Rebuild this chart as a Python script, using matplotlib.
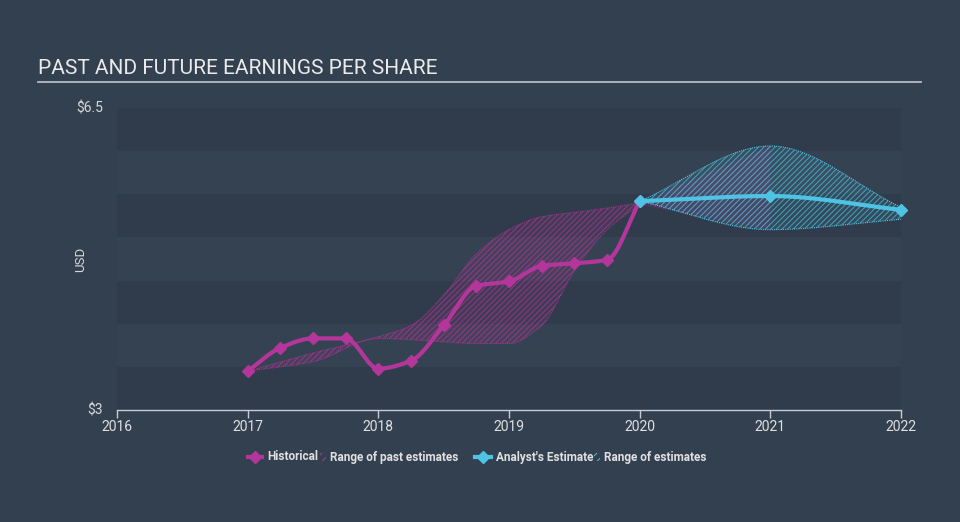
import matplotlib
matplotlib.use('Agg')
import matplotlib.pyplot as plt
import numpy as np
from matplotlib.lines import Line2D
import matplotlib.patches as mpatches

# ---- data ----
hist_x = [2017.0, 2017.25, 2017.5, 2017.75, 2018.0, 2018.25, 2018.5, 2018.75,
          2019.0, 2019.25, 2019.5, 2019.75, 2020.0]
hist_eps = [3.45, 3.72, 3.83, 3.83, 3.48, 3.57, 3.98, 4.44, 4.49, 4.67, 4.70, 4.74, 5.42]

past_x = [2017.0, 2017.5, 2018.0, 2018.25, 2018.5, 2018.75, 2019.0, 2019.25, 2019.5,
          2019.75, 2020.0]
past_high = [3.45, 3.66, 3.85, 3.98, 4.33, 4.81, 5.09, 5.24, 5.29, 5.34, 5.40]
past_lo_x = [2017.0, 2017.5, 2018.0, 2018.5, 2018.75, 2019.0, 2019.25, 2019.5, 2019.75, 2020.0]
past_low = [3.45, 3.56, 3.83, 3.79, 3.77, 3.77, 3.98, 4.61, 5.09, 5.38]
past_fut_x = [2020.0, 2021.0]
past_fut_high = [5.40, 6.06]
past_fut_low = [5.38, 5.09]

est_x = [2020.0, 2021.0, 2022.0]
est_eps = [5.42, 5.48, 5.32]
est_high = [5.42, 6.06, 5.35]
est_low = [5.42, 5.09, 5.21]

years = [2016, 2017, 2018, 2019, 2020, 2021, 2022]

MAG = '#b5369b'
CYAN = '#4fc3e3'
BG = '#334050'


def smooth(x, y, n=200):
    # monotone cubic (Fritsch-Carlson) for drawing only
    x = np.asarray(x, float); y = np.asarray(y, float)
    h = np.diff(x); d = np.diff(y) / h
    m = np.zeros_like(y)
    m[0], m[-1] = d[0], d[-1]
    for i in range(1, len(x) - 1):
        if d[i - 1] * d[i] <= 0:
            m[i] = 0
        else:
            w1 = 2 * h[i] + h[i - 1]; w2 = h[i] + 2 * h[i - 1]
            m[i] = (w1 + w2) / (w1 / d[i - 1] + w2 / d[i])
    xs = np.linspace(x[0], x[-1], n)
    idx = np.clip(np.searchsorted(x, xs) - 1, 0, len(x) - 2)
    t = (xs - x[idx]) / h[idx]
    h00 = 2*t**3 - 3*t**2 + 1; h10 = t**3 - 2*t**2 + t
    h01 = -2*t**3 + 3*t**2; h11 = t**3 - t**2
    ys = h00*y[idx] + h10*h[idx]*m[idx] + h01*y[idx+1] + h11*h[idx]*m[idx+1]
    return xs, ys


plt.rcParams['font.family'] = ['Roboto', 'DejaVu Sans']
plt.rcParams['hatch.linewidth'] = 0.7

fig = plt.figure(figsize=(9.6, 5.22), dpi=100)
fig.patch.set_facecolor(BG)
ax = fig.add_axes([117/960, 112/522, 784/960, 302/522])
ax.set_facecolor(BG)
ax.set_xlim(2016, 2022)
ax.set_ylim(3, 6.5)

# alternating bands
for i, lo in enumerate(np.arange(3, 6.5, 0.5)):
    ax.axhspan(lo, lo + 0.5, color='#303c4b' if i % 2 == 0 else '#354251', lw=0, zorder=0)

# past estimate range
xs_h, ys_h = smooth(past_x, past_high, 400)
xs_l, ys_l = smooth(past_lo_x, past_low, 400)
ys_l_on_h = np.interp(xs_h, xs_l, ys_l)
ax.fill_between(xs_h, ys_l_on_h, ys_h, facecolor=MAG, alpha=0.14, lw=0, zorder=1)
ax.fill_between(xs_h, ys_l_on_h, ys_h, facecolor='none', edgecolor=MAG, hatch='//////',
                lw=0, alpha=0.7, zorder=1)
ax.plot(xs_h, ys_h, color=MAG, lw=0.8, ls=(0, (1, 1)), alpha=0.8, zorder=1)
ax.plot(xs_l, ys_l, color=MAG, lw=0.8, ls=(0, (1, 1)), alpha=0.8, zorder=1)
ax.fill_between(past_fut_x, past_fut_low, past_fut_high, facecolor=MAG, alpha=0.12, lw=0, zorder=1)
ax.fill_between(past_fut_x, past_fut_low, past_fut_high, facecolor='none', edgecolor=MAG,
                hatch='//////', lw=0, alpha=0.5, zorder=1)

# future estimate range
fx, fh = smooth(est_x, est_high)
fx2, fl = smooth(est_x, est_low)
ax.fill_between(fx, fl, fh, facecolor=CYAN, alpha=0.12, lw=0, zorder=2)
ax.fill_between(fx, fl, fh, facecolor='none', edgecolor=CYAN, hatch='//////',
                lw=0, alpha=0.7, zorder=2)
ax.plot(fx, fh, color=CYAN, lw=0.8, ls=(0, (1, 1)), zorder=2)
ax.plot(fx2, fl, color=CYAN, lw=0.8, ls=(0, (1, 1)), zorder=2)

# historical line
hx, hy = smooth(hist_x, hist_eps, 400)
ax.plot(hx, hy, color=MAG, lw=3, zorder=4, solid_capstyle='round')
ax.plot(hist_x, hist_eps, 'D', color=MAG, ms=6.5, zorder=5)

# analyst estimate line
ex, ey = smooth(est_x, est_eps)
ax.plot(ex, ey, color=CYAN, lw=3, zorder=6, solid_capstyle='round')
ax.plot(est_x, est_eps, 'D', color=CYAN, ms=6.5, zorder=7, clip_on=False)

# axes styling
for s in ['top', 'right', 'left']:
    ax.spines[s].set_visible(False)
ax.spines['bottom'].set_color('#c8ccd2')
ax.spines['bottom'].set_linewidth(1)
ax.set_xticks(years)
ax.set_xticklabels([str(y) for y in years])
ax.tick_params(axis='x', colors='#c8ccd2', labelcolor='#e0e0e0', labelsize=10,
               length=6, width=1, pad=1)
ax.set_yticks([3, 6.5])
ax.set_yticklabels(['$3', '$6.5'])
ax.tick_params(axis='y', length=0, labelcolor='#d8d8d8', labelsize=10, pad=10)
for lbl in ax.get_yticklabels():
    lbl.set_verticalalignment('center')
ax.set_ylabel('USD', color='#d8d8d8', fontsize=9.5)
ax.yaxis.set_label_coords(-30/784, 0.5)

# title + underline
fig.text(38/960, 1 - 69/522, 'PAST AND FUTURE EARNINGS PER SHARE', color='#eaeaea',
         fontsize=15, va='center', ha='left')
fig.add_artist(Line2D([38/960, 921/960], [1 - 82/522, 1 - 82/522], color='#b8bcc4', lw=1.3))

# legend (manual)
ly = 1 - 457/522
fig.add_artist(Line2D([248/960, 262/960], [ly, ly], color=MAG, lw=3))
fig.add_artist(Line2D([255/960], [ly], marker='D', color=MAG, ms=6))
fig.text(267/960, ly, 'Historical', color='#e0e0e0', fontsize=8.5, va='center',
         fontweight='semibold')
fig.add_artist(mpatches.Rectangle((320/960, ly - 4/522), 6/960, 8/522, facecolor='none',
                                  edgecolor=MAG, hatch='////', lw=0))
fig.text(330/960, ly, 'Range of past estimates', color='#e0e0e0', fontsize=8.5,
         va='center', fontweight='semibold')
fig.add_artist(Line2D([475/960, 491/960], [ly, ly], color=CYAN, lw=3))
fig.add_artist(Line2D([483/960], [ly], marker='D', color=CYAN, ms=6))
fig.text(496/960, ly, "Analyst's Estimate", color='#e0e0e0', fontsize=8.5,
         va='center', fontweight='semibold')
fig.add_artist(mpatches.Rectangle((594/960, ly - 4/522), 6/960, 8/522, facecolor='none',
                                  edgecolor=CYAN, hatch='////', lw=0))
fig.text(604/960, ly, 'Range of estimates', color='#e0e0e0', fontsize=8.5,
         va='center', fontweight='semibold')

fig.savefig('out.png', dpi=100, facecolor=BG)
